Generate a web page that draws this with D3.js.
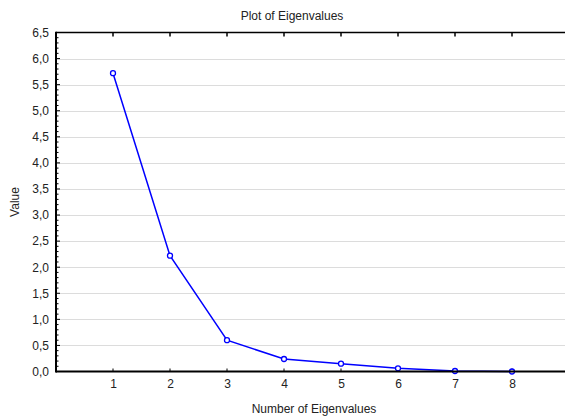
<!DOCTYPE html>
<html><head><meta charset="utf-8">
<script src="https://cdn.jsdelivr.net/npm/d3@7"></script>
<style>
body{margin:0;background:#fff;overflow:hidden}
text{font-family:"Liberation Sans",Arial,sans-serif;fill:#222}
</style></head><body>
<svg id="c" width="565" height="416"></svg>
<script>
const eigenNumbers = [1,2,3,4,5,6,7,8];
const eigenValues = [5.72,2.22,0.60,0.24,0.15,0.06,0.01,0.0];
const yTicks = [0,0.5,1,1.5,2,2.5,3,3.5,4,4.5,5,5.5,6,6.5];
const title = "Plot of Eigenvalues";
const xTitle = "Number of Eigenvalues";
const yTitle = "Value";

const svg = d3.select("#c");
const L = 56, T = 32.5, B = 371.5;
const FS = 12;
const x = d3.scaleLinear().domain([0,9]).range([L, L+57*9]);
const y = d3.scaleLinear().domain([0,6.5]).range([B, T]);
const fmt = d => d3.format(".1f")(d).replace(".", ",");

// grid
svg.append("g").selectAll("line").data(yTicks.filter(d=>d>0&&d<6.5)).join("line")
  .attr("x1",L).attr("x2",565).attr("y1",d=>Math.round(y(d))+0.5).attr("y2",d=>Math.round(y(d))+0.5)
  .attr("stroke","#dcdcdc").attr("stroke-width",1);

// y axis
const ya = svg.append("g").attr("transform",`translate(${L},0)`)
  .call(d3.axisLeft(y).tickValues(yTicks).tickFormat(fmt).tickSize(0).tickPadding(7));
ya.select(".domain").remove();
ya.selectAll("text").attr("font-size",FS).attr("font-family","Liberation Sans, Arial, sans-serif").attr("fill","#2a2a2a");
// minor ticks
svg.append("g").selectAll("line").data(d3.range(0,66).map(i=>i/10)).join("line")
  .attr("x1",L).attr("x2",d=> (Math.abs(d*2-Math.round(d*2))<1e-6)?L+4:L+2.5)
  .attr("y1",d=>y(d)).attr("y2",d=>y(d)).attr("stroke","#000").attr("stroke-width",1);

// x axis
const xa = svg.append("g").attr("transform",`translate(0,${B})`)
  .call(d3.axisBottom(x).tickValues(eigenNumbers).tickFormat(d3.format("d")).tickSize(0).tickPadding(8));
xa.select(".domain").remove();
xa.selectAll("text").attr("font-size",FS).attr("font-family","Liberation Sans, Arial, sans-serif").attr("fill","#2a2a2a");
svg.append("g").selectAll("line").data(eigenNumbers).join("line")
  .attr("x1",d=>x(d)).attr("x2",d=>x(d)).attr("y1",B).attr("y2",B-3).attr("stroke","#000");
svg.append("g").selectAll("line").data(eigenNumbers).join("line")
  .attr("x1",d=>x(d)).attr("x2",d=>x(d)).attr("y1",T).attr("y2",T+4).attr("stroke","#000").attr("stroke-width",1.5);

// data line
const line = d3.line().x((d,i)=>x(eigenNumbers[i])).y(d=>y(d));
svg.append("path").datum(eigenValues).attr("d",line).attr("fill","none")
  .attr("stroke","#0000ff").attr("stroke-width",1.5);
svg.append("g").selectAll("circle").data(eigenValues).join("circle")
  .attr("cx",(d,i)=>x(eigenNumbers[i])).attr("cy",d=>y(d)).attr("r",2.5)
  .attr("fill","#fff").attr("stroke","#0000ff").attr("stroke-width",1.3);

// frame
svg.append("line").attr("x1",L).attr("x2",565).attr("y1",T).attr("y2",T).attr("stroke","#000").attr("stroke-width",1.5);
svg.append("line").attr("x1",L).attr("x2",565).attr("y1",B).attr("y2",B).attr("stroke","#000").attr("stroke-width",2);
svg.append("line").attr("x1",L).attr("x2",L).attr("y1",T-0.75).attr("y2",B+1).attr("stroke","#000").attr("stroke-width",2);

// titles
svg.append("text").attr("x",292).attr("y",20).attr("text-anchor","middle").attr("font-size",FS).text(title);
svg.append("text").attr("x",314).attr("y",413).attr("text-anchor","middle").attr("font-size",FS).text(xTitle);
svg.append("text").attr("transform","translate(19,202) rotate(-90)").attr("text-anchor","middle").attr("font-size",FS).text(yTitle);
</script></body></html>
